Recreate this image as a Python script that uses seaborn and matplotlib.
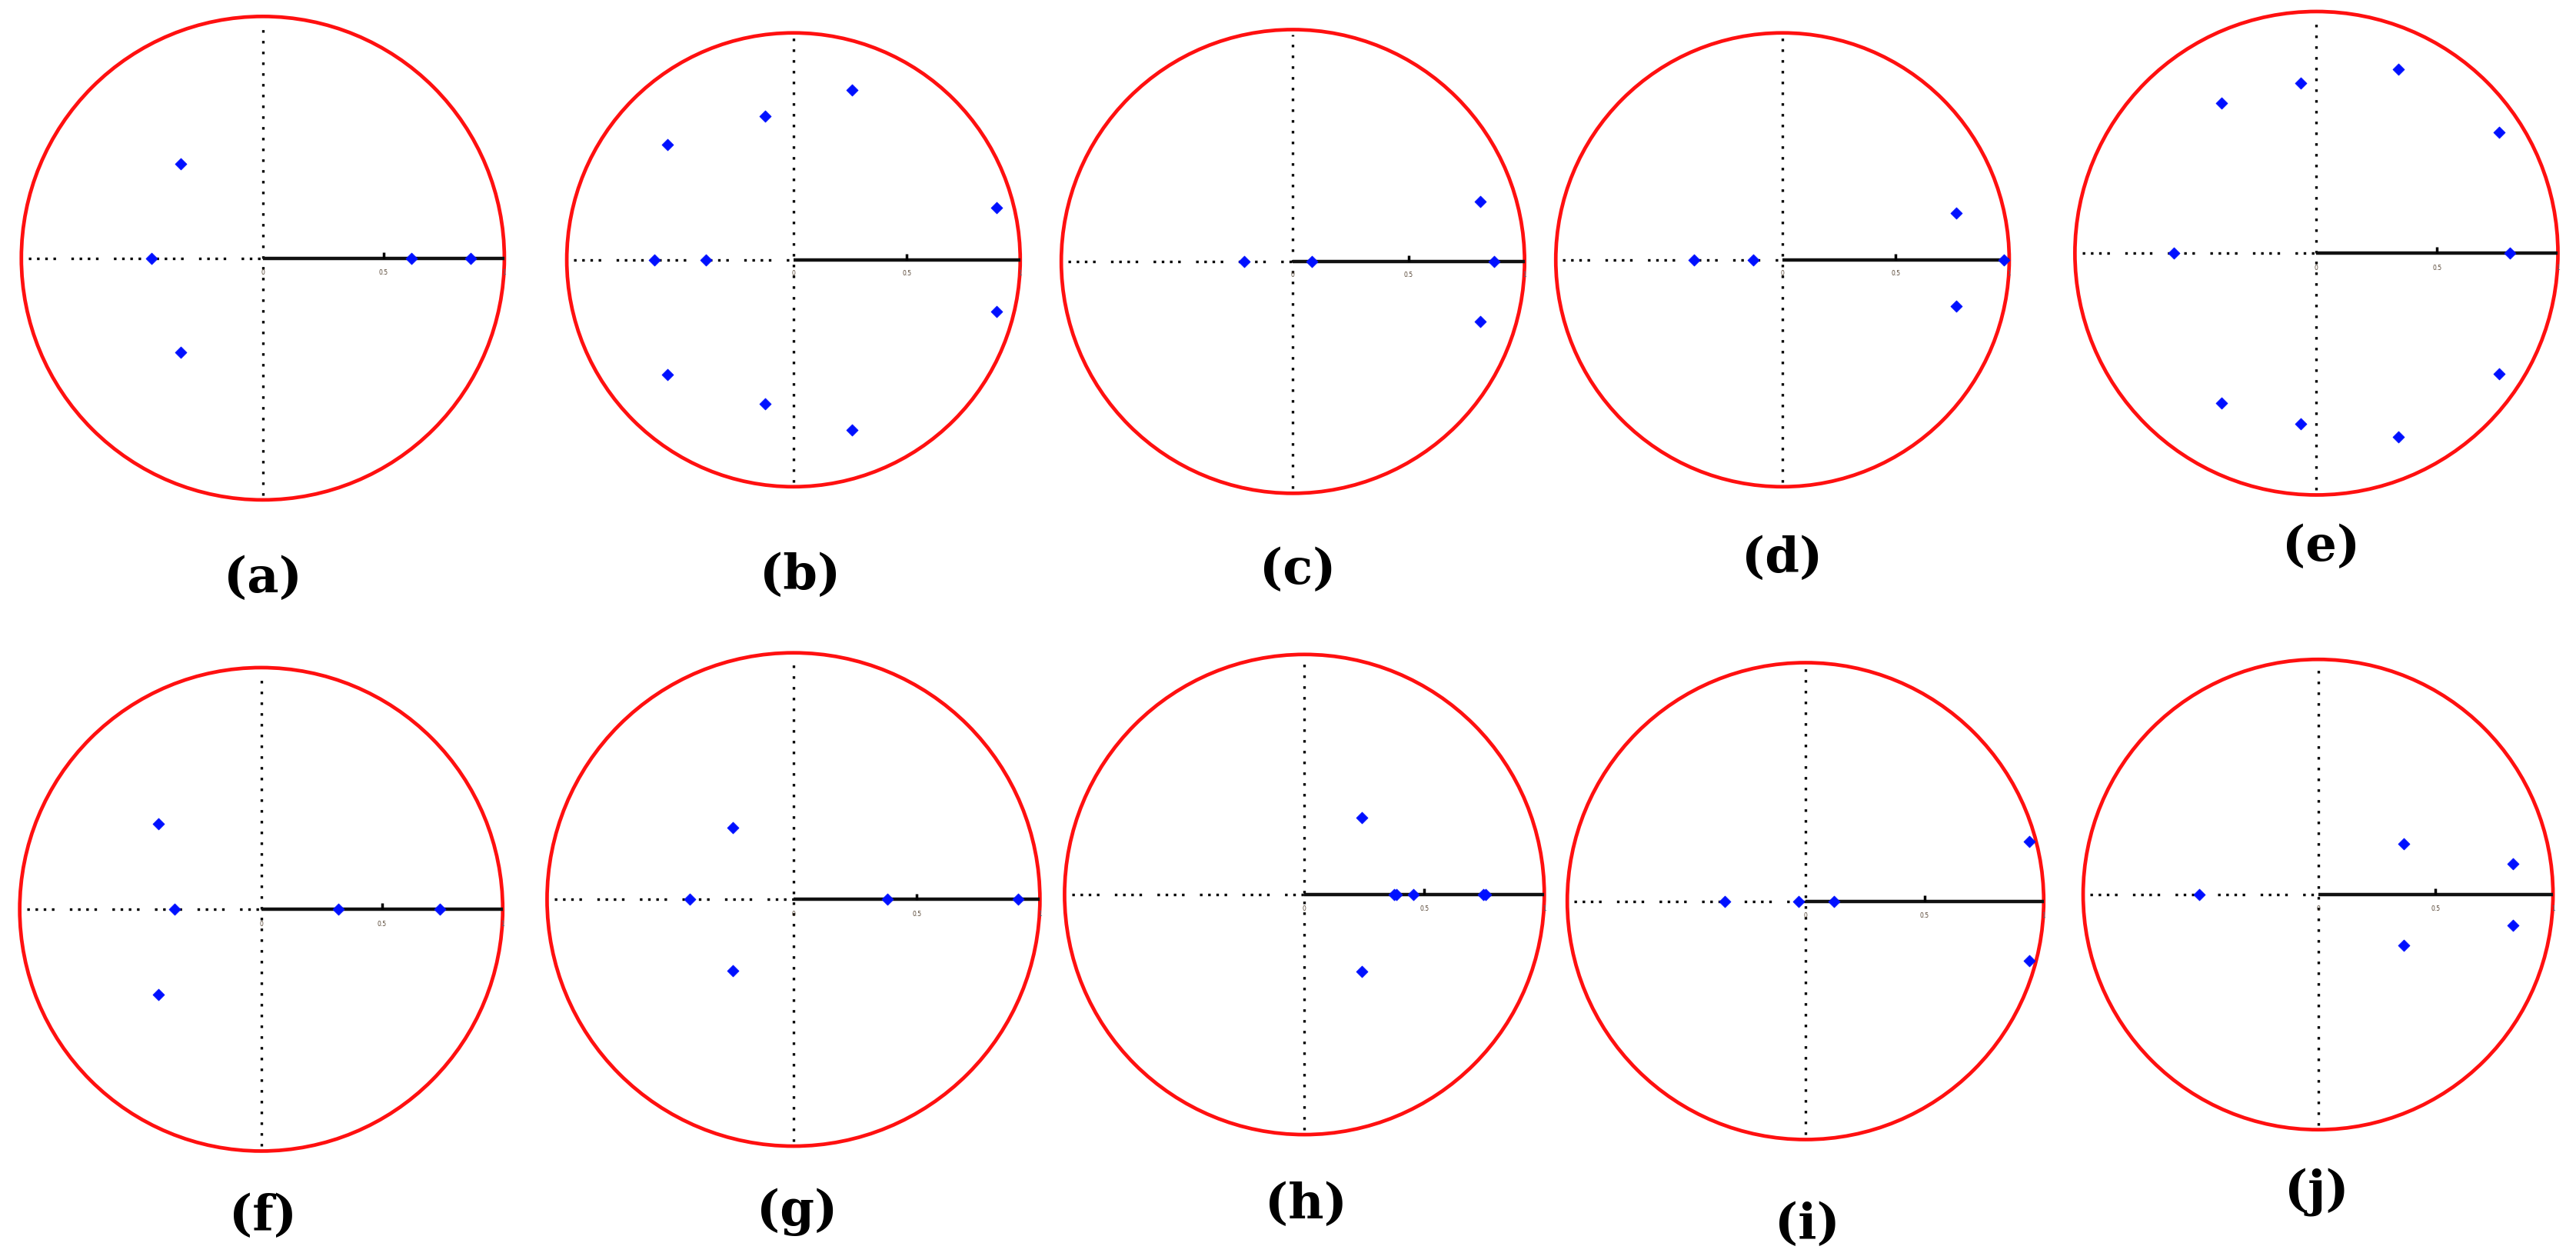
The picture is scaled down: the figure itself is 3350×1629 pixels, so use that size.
import numpy as np
import matplotlib
matplotlib.use("Agg")
import matplotlib.pyplot as plt
import seaborn as sns

sns.set_style("white")

a_re = [-0.34, -0.34, -0.46, 0.615, 0.86]
a_im = [0.39, -0.39, 0, 0, 0]

b_re = [-0.555, -0.555, -0.126, -0.126, 0.257, 0.257, 0.897, 0.897, -0.613, -0.386]
b_im = [0.506, -0.506, 0.633, -0.633, 0.75, -0.75, 0.229, -0.229, 0, 0]

c_re = [0.81, 0.81, -0.21, 0.08, 0.87]
c_im = [0.26, -0.26, 0, 0, 0]

d_re = [0.765, 0.765, -0.39, -0.13, 0.975]
d_im = [0.205, -0.205, 0, 0, 0]

e_re = [0.34, 0.34, -0.066, -0.066, -0.394, -0.394, 0.755, 0.755, 0.80, -0.59]
e_im = [0.76, -0.76, 0.705, -0.705, 0.62, -0.62, 0.50, -0.50, 0, 0]

f_re = [-0.425, -0.425, -0.36, 0.32, 0.74]
f_im = [0.354, -0.354, 0, 0, 0]

g_re = [-0.246, -0.246, -0.42, 0.38, 0.91]
g_im = [0.29, -0.29, 0, 0, 0]

h_re = [0.24, 0.24, 0.375, 0.385, 0.455, 0.745, 0.755]
h_im = [0.32, -0.32, 0, 0, 0, 0, 0]

i_re = [0.94, 0.94, -0.34, -0.03, 0.12]
i_im = [0.25, -0.25, 0, 0, 0]

j_re = [0.364, 0.364, 0.83, 0.83, -0.505]
j_im = [0.217, -0.217, 0.13, -0.13, 0]

labels = ["(a)", "(b)", "(c)", "(d)", "(e)", "(f)", "(g)", "(h)", "(i)", "(j)"]
reals = [a_re, b_re, c_re, d_re, e_re, f_re, g_re, h_re, i_re, j_re]
imags = [a_im, b_im, c_im, d_im, e_im, f_im, g_im, h_im, i_im, j_im]

# layout in reference pixels (1568 x 762 scale): circle centre, radius, label position
W, H = 1568.0, 762.0
layout = [
    (160, 157, 147, 160, 352),
    (483, 158, 138, 487, 350),
    (787, 159, 141, 790, 347),
    (1085, 158, 138, 1085, 340),
    (1410, 154, 147, 1413, 333),
    (159, 553, 147, 160, 740),
    (483, 547, 150, 485, 737),
    (794, 544, 146, 795, 733),
    (1099, 548, 145, 1100, 745),
    (1411, 544, 143, 1410, 725),
]

fig = plt.figure(figsize=(33.5, 16.29), dpi=100)
fig.patch.set_facecolor("white")

pad = 1.06
for lab, re, im, (cx, cy, r, lx, ly) in zip(labels, reals, imags, layout):
    ax = fig.add_axes([(cx - pad * r) / W, 1 - (cy + pad * r) / H,
                       2 * pad * r / W, 2 * pad * r / H])
    ax.set_xlim(-pad, pad)
    ax.set_ylim(-pad, pad)
    ax.axis("off")

    # unit circle
    ax.add_patch(plt.Circle((0, 0), 1.0, fill=False, color="#ff1010", lw=3.4))

    # axes: dotted imaginary axis and negative real axis, solid positive real axis
    ax.plot([0, 0], [-0.98, 0.98], color="black", lw=2.4, ls=(0, (1, 3.2)))
    ax.plot([-0.97, 0], [0, 0], color="black", lw=2.4, ls=(0, (1, 2.2, 1, 2.2, 1, 2.2, 1, 6)))
    ax.plot([0, 1], [0, 0], color="#111111", lw=3.2, solid_capstyle="butt")
    ax.plot([0.5], [0.012], marker="|", color="black", ms=6, mew=2.5)
    ax.text(0.0, -0.06, "0", fontsize=5.5, color="#554433", ha="center", va="center")
    ax.text(0.5, -0.06, "0.5", fontsize=5.5, color="#554433", ha="center", va="center")
    ax.text(1.0, -0.06, "1", fontsize=5.5, color="#556677", ha="center", va="center")

    sns.scatterplot(x=re, y=im, marker="D", color="#0010ff", edgecolor="#0010ff",
                    s=58, linewidth=0.6, ax=ax, legend=False, zorder=5)

    fig.text(lx / W, 1 - ly / H, lab, fontsize=46, fontweight="bold", color="black",
             family="DejaVu Serif", ha="center", va="center")

fig.savefig("out.png", dpi=100, facecolor="white")
